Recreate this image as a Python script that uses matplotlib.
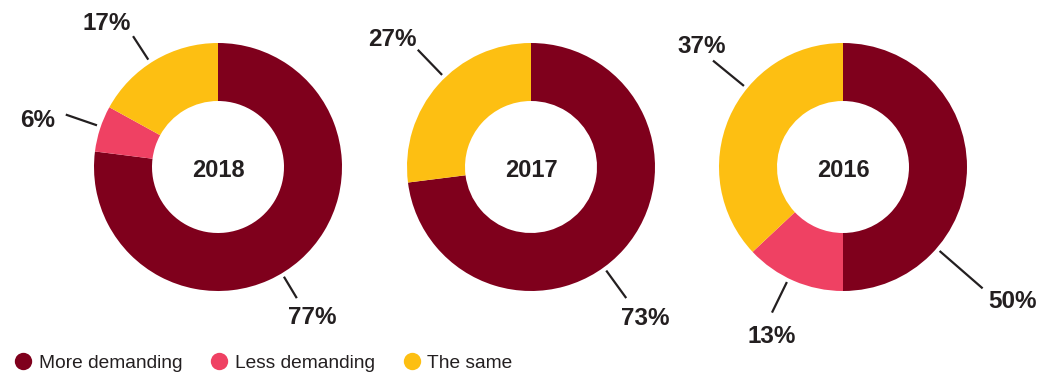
import numpy as np
import matplotlib.pyplot as plt
from matplotlib.lines import Line2D

plt.rcParams['font.family'] = ['Liberation Sans', 'DejaVu Sans']

years = ['2018', '2017', '2016']
categories = ['More demanding', 'Less demanding', 'The same']
more_demanding = [77, 73, 50]
less_demanding = [6, 0, 13]
the_same = [17, 27, 37]

colors = ['#7f001c', '#ef4163', '#fdbf12']
text_color = '#231f20'

# leader line / label layout per donut: category index -> (line angle, label angle, line end r, label r)
# angles clockwise from 12 o'clock, radii in pixels
label_layout = [
    {0: (149, 147.5, 153, 175), 1: (289, 285.3, 161, 187), 2: (327, 322.6, 156, 184)},
    {0: (144, 142.4, 162, 188), 2: (316, 313.1, 163, 190)},
    {0: (131, 127.8, 185, 215), 1: (206, 203.2, 162, 182), 2: (309.3, 311.1, 168, 187)},
]

W, H = 1053, 374
fig = plt.figure(figsize=(W / 100, H / 100), dpi=100)
ax = fig.add_axes([0, 0, 1, 1])

centers_x = [218, 531, 843]
center_y = H - 167
outer_r = 124
ring_w = 58
line_start = 128

for i, year in enumerate(years):
    vals = [more_demanding[i], less_demanding[i], the_same[i]]
    cx = centers_x[i]
    ax.pie(vals, colors=colors, startangle=90, counterclock=False,
           center=(cx, center_y), radius=outer_r,
           wedgeprops=dict(width=ring_w, linewidth=0))
    ax.text(cx, center_y - 1, year, ha='center', va='center_baseline', fontsize=17,
            fontweight='bold', color=text_color)

    for k, (a_line, a_lab, r_end, r_lab) in label_layout[i].items():
        t = np.radians(a_line)
        xs = [cx + line_start * np.sin(t), cx + r_end * np.sin(t)]
        ys = [center_y + line_start * np.cos(t), center_y + r_end * np.cos(t)]
        ax.plot(xs, ys, color=text_color, lw=1.6, solid_capstyle='butt')
        t2 = np.radians(a_lab)
        ax.text(cx + r_lab * np.sin(t2), center_y + r_lab * np.cos(t2),
                f'{vals[k]}%', ha='center', va='center_baseline', fontsize=17.5,
                fontweight='bold', color=text_color)

ax.set_xlim(0, W)
ax.set_ylim(0, H)
ax.set_aspect('equal')
ax.axis('off')

handles = [Line2D([], [], marker='o', ls='none', markersize=12.5,
                  markerfacecolor=c, markeredgewidth=0) for c in colors]
ax.legend(handles, categories, loc='center left', bbox_to_anchor=(0.002, (H - 363) / H),
          ncol=3, frameon=False, fontsize=13.8, handlelength=0.8, handletextpad=0.4,
          columnspacing=1.55, borderaxespad=0.3, labelcolor=text_color)

fig.savefig('out.png', dpi=100)
